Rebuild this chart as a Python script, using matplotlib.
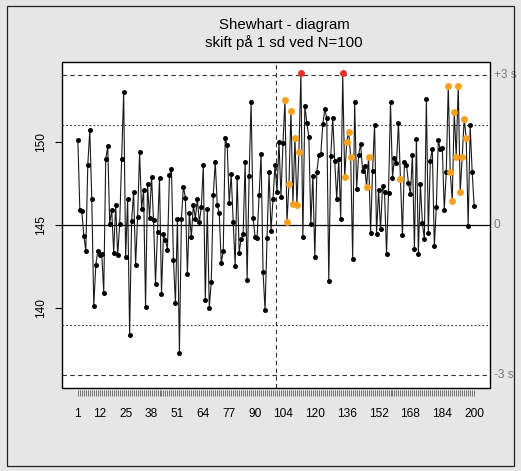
import matplotlib
matplotlib.use("Agg")
import matplotlib.pyplot as plt
import matplotlib.transforms as mtransforms
from matplotlib.patches import Rectangle
import numpy as np

plt.rcParams['font.family'] = ['Liberation Sans', 'DejaVu Sans']

# ---------------- data ----------------
values = [
    150.10, 145.88, 145.82, 144.36, 143.44, 148.62, 150.70, 146.54, 140.12, 142.58,
    143.44, 143.18, 143.28, 140.94, 148.94, 149.72, 145.06, 145.92, 143.34, 146.18,
    143.18, 145.04, 148.98, 153.00, 143.08, 146.54, 138.42, 145.24, 146.98, 142.58,
    145.46, 149.38, 145.94, 147.10, 140.08, 147.44, 145.42, 147.90, 145.28, 141.48,
    144.58, 147.84, 140.88, 144.48, 144.12, 143.52, 148.02, 148.34, 142.92, 140.32,
    145.38, 137.34, 145.38, 147.30, 146.64, 142.08, 145.72, 144.26, 146.22, 145.38,
    146.56, 145.16, 146.08, 148.58, 140.48, 145.94, 140.04, 141.58, 146.78, 148.78,
    146.22, 145.72, 142.72, 143.42, 150.20, 149.78, 146.30, 148.04, 145.20, 142.56,
    147.90, 143.34, 144.18, 144.48, 148.78, 141.70, 147.94, 152.38, 145.44, 144.28,
    144.22, 146.78, 149.26, 142.18, 139.88, 144.24, 148.18, 144.66, 146.54, 148.62,
    146.98, 149.98, 146.70, 149.90, 152.52, 145.16, 147.44, 151.86, 146.28, 150.24,
    146.22, 149.38, 154.10, 144.28, 152.16, 151.12, 150.30, 145.06, 147.96, 143.06,
    148.18, 149.18, 149.26, 151.04, 151.94, 151.40, 141.62, 149.12, 151.40, 148.82,
    146.54, 148.98, 145.36, 154.10, 147.86, 149.98, 150.60, 149.06, 142.98, 152.36,
    147.18, 149.22, 149.86, 148.24, 148.54, 147.28, 149.10, 144.54, 148.26, 151.02,
    144.46, 147.12, 144.74, 147.34, 146.96, 143.28, 146.92, 152.36, 147.84, 149.04,
    148.70, 151.12, 147.78, 144.40, 148.78, 148.62, 147.54, 146.84, 149.22, 143.54,
    150.18, 143.28, 147.48, 145.10, 144.14, 152.54, 144.54, 148.86, 149.58, 143.72,
    146.06, 150.08, 149.54, 149.64, 145.92, 148.16, 153.36, 148.16, 146.46, 151.78,
    149.10, 153.36, 146.98, 149.08, 151.36, 150.24, 144.94, 150.98, 148.20, 146.12,
]
center = 145.0
sd = 3.0
shift_at = 100
x_labels = [1, 12, 25, 38, 51, 64, 77, 90, 104, 120, 136, 152, 168, 184, 200]
y_ticks = [140, 145, 150]
right_labels = ["+3 s", "0", "-3 s"]
title_lines = ["Shewhart - diagram", "skift på 1 sd ved N=100"]

# ---------------- figure ----------------
W, H = 521, 471
fig = plt.figure(figsize=(W / 100, H / 100), dpi=100, facecolor='#E6E6E6')
fig.patches.append(Rectangle((7 / W, 1 - 466 / H), 507 / W, 460 / H,
                             transform=fig.transFigure, fill=False,
                             edgecolor='#222222', linewidth=0.9))

L, R, T, B = 62, 490, 62, 388
ax = fig.add_axes([L / W, 1 - B / H, (R - L) / W, (B - T) / H])
ax.set_facecolor('white')

n = len(values)
x = np.arange(1, n + 1)
y = np.array(values)
ucl, lcl = center + 3 * sd, center - 3 * sd

# classify points: red beyond limits, orange in run >= 7 on same side
colors = []
run = 0
side = 0
for v in y:
    s = 1 if v > center else (-1 if v < center else 0)
    if s != 0 and s == side:
        run += 1
    else:
        run = 1
        side = s
    if v > ucl or v < lcl:
        colors.append('red')
    elif run >= 7:
        colors.append('orange')
    else:
        colors.append('black')

ax.plot(x, y, color='#1a1a1a', linewidth=0.8, zorder=2)
for c, col, ms in [('black', 'black', 3.6), ('orange', '#F8A11E', 5.0), ('red', '#E8302A', 5.0)]:
    m = np.array(colors) == c
    ax.plot(x[m], y[m], linestyle='none', marker='o', markersize=ms,
            color=col, markeredgewidth=0, zorder=3)

ax.axhline(center, color='black', linewidth=0.9, zorder=1)
for lv in (ucl, lcl):
    ax.axhline(lv, color='#333333', linewidth=0.8, linestyle=(0, (4, 3)), zorder=1)
for lv in (center + 2 * sd, center - 2 * sd):
    ax.axhline(lv, color='#333333', linewidth=0.8, linestyle=(0, (1.5, 2)), zorder=1)
ax.axvline(shift_at + 0.5, color='#333333', linewidth=0.8, linestyle=(0, (4, 3)), zorder=1)

ax.set_xlim(1 - 0.04 * (n - 1), n + 0.04 * (n - 1))
ax.set_ylim(135.22, 154.78)

# frame
for sp in ax.spines.values():
    sp.set_visible(False)
ax.add_patch(Rectangle((0, 0), 1, 1, transform=ax.transAxes, fill=False,
                       edgecolor='black', linewidth=1.0, clip_on=False, zorder=5))
ax.spines['bottom'].set_visible(True)
ax.spines['bottom'].set_color('none')
ax.spines['bottom'].set_position(('outward', 1.5))

ax.set_xticks(x)
ax.set_xticklabels([str(i) if i in x_labels else '' for i in x])
ax.tick_params(axis='x', length=4.5, width=0.5, color='#444444', pad=8.5,
               labelsize=8.6, labelcolor='black')
ax.set_yticks(y_ticks)
ax.set_yticklabels([str(v) for v in y_ticks], rotation=90, va='center')
ax.tick_params(axis='y', length=5, width=0.8, color='black', pad=6,
               labelsize=8.6)

tr = mtransforms.blended_transform_factory(ax.transAxes, ax.transData)
for lab, lv in zip(right_labels, (ucl, center, lcl)):
    ax.text(1.0 + 4 / (R - L), lv, lab, transform=tr, ha='left', va='center',
            fontsize=8.6, color='#7a7a7a')

fig.text(284 / W, 1 - 25 / H, title_lines[0], ha='center', va='center', fontsize=10.8)
fig.text(284 / W, 1 - 43 / H, title_lines[1], ha='center', va='center', fontsize=10.8)

fig.savefig('out.png', dpi=100, facecolor=fig.get_facecolor())
